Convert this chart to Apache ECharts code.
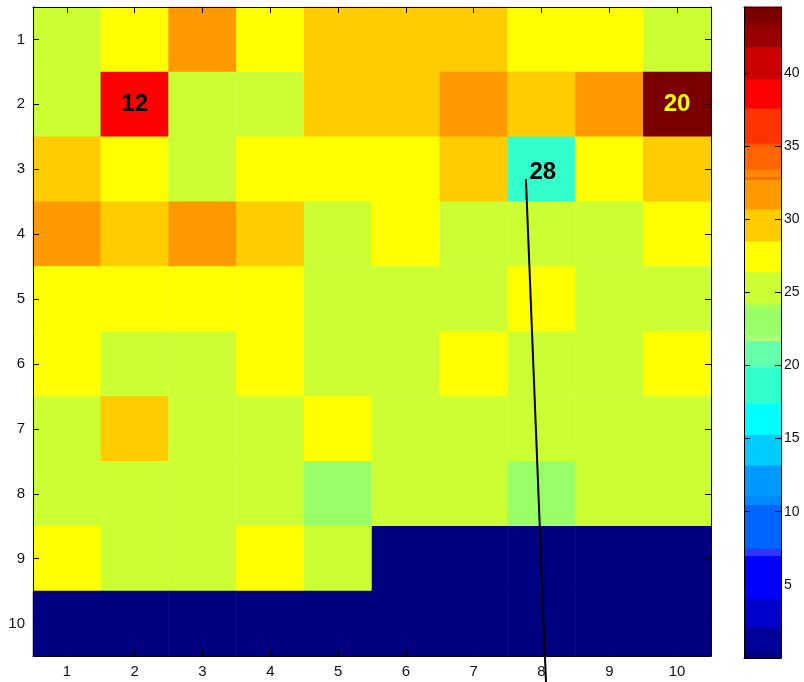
<!DOCTYPE html>
<html>
<head>
<meta charset="utf-8">
<title>Cell map</title>
<script src="https://cdn.jsdelivr.net/npm/echarts@6/dist/echarts.min.js"></script>
<style>
  html, body { margin: 0; padding: 0; background: #ffffff; }
  #chart { width: 804px; height: 682px; }
</style>
</head>
<body>
<div id="chart"></div>
<script>
// Column and row labels of the 10 x 10 grid
const colLabels = ['1', '2', '3', '4', '5', '6', '7', '8', '9', '10'];
const rowLabels = ['1', '2', '3', '4', '5', '6', '7', '8', '9', '10'];

// Cell values, one array per row (row 1 is drawn at the top)
const row1  = [25, 27, 31, 27, 29, 29, 29, 27, 27, 25];
const row2  = [25, 38, 25, 25, 29, 29, 31, 29, 31, 44];
const row3  = [29, 27, 25, 27, 27, 27, 29, 18, 27, 29];
const row4  = [31, 29, 31, 29, 25, 27, 25, 25, 25, 27];
const row5  = [27, 27, 27, 27, 25, 25, 25, 27, 25, 25];
const row6  = [27, 25, 25, 27, 25, 25, 27, 25, 25, 27];
const row7  = [25, 29, 25, 25, 27, 25, 25, 25, 25, 25];
const row8  = [25, 25, 25, 25, 23, 25, 25, 23, 25, 25];
const row9  = [27, 25, 25, 27, 25, 0, 0, 0, 0, 0];
const row10 = [0, 0, 0, 0, 0, 0, 0, 0, 0, 0];
const rows = [row1, row2, row3, row4, row5, row6, row7, row8, row9, row10];

// Stepped colour scale: band edges (low to high) and the colour of each band
const bandEdges = [0, 0.5, 2.1, 4.1, 7.0, 7.5, 10.5, 11.1, 13.2, 15.3, 17.4, 19.9, 20.1,
                   21.7, 22.1, 23.9, 24.3, 26.4, 28.5, 30.7, 32.7, 32.9, 33.4, 35.0,
                   35.2, 37.6, 39.6, 41.8, 43.1, 43.6, 44.5];
const bandColors = ['#000080', '#000099', '#0000cc', '#0000ff', '#3333ff', '#0066ff',
                    '#0088ff', '#0099ff', '#00ccff', '#00ffff', '#33ffcc', '#55ffbb',
                    '#66ffaa', '#aaff77', '#99ff66', '#aaff55', '#ccff33', '#ffff00',
                    '#ffcc00', '#ff9900', '#ff6600', '#ff8800', '#ff6600', '#ff5500',
                    '#ff3300', '#ff0000', '#cc0000', '#990000', '#880000', '#7a0000'];

// Cell number call-outs (column, row, text, colour)
const noteCols   = [2, 10, 8.02];
const noteRows   = [2, 2, 3.05];
const noteTexts  = ['12', '20', '28'];
const noteColors = ['#000000', '#ffff00', '#000000'];

// Leader line from the "28" call-out down past the bottom edge
const leaderX = [7.77, 8.07];
const leaderY = [3.15, 11.0];

const heatData = [];
rows.forEach((r, ri) => r.forEach((v, ci) => heatData.push([ci, ri, v])));

const pieces = bandColors.map((c, i) => {
  const p = { gte: bandEdges[i], color: c };
  if (i < bandColors.length - 1) p.lt = bandEdges[i + 1]; else p.lte = bandEdges[i + 1];
  return p;
});

const bandData = bandColors.map((c, i) => [bandEdges[i], bandEdges[i + 1]]);
const noteData = noteTexts.map((t, i) => ({
  value: [noteCols[i], noteRows[i]],
  label: { color: noteColors[i] }
}));
const leaderData = leaderX.map((x, i) => [x, leaderY[i]]);

const labelFont = { fontFamily: 'Liberation Sans, Arial, sans-serif', fontSize: 15, color: '#111' };
const axisLine = { show: true, onZero: false, lineStyle: { color: '#000', width: 1 } };
const inTick = { show: true, inside: true, length: 6, alignWithLabel: true, lineStyle: { color: '#000' } };

const chart = echarts.init(document.getElementById('chart'), null, { renderer: 'canvas' });
chart.setOption({
  animation: false,
  backgroundColor: '#ffffff',
  grid: [
    { left: 33, top: 7, width: 678, height: 649 },
    { left: 744, top: 7, width: 37, height: 651 }
  ],
  xAxis: [
    { type: 'category', gridIndex: 0, data: colLabels, position: 'bottom',
      axisLine: axisLine, axisTick: inTick, splitLine: { show: false },
      axisLabel: Object.assign({ margin: 8 }, labelFont), z: 10 },
    { type: 'category', gridIndex: 0, data: colLabels, position: 'top',
      axisLine: axisLine, axisTick: inTick, axisLabel: { show: false }, z: 10 },
    { type: 'value', gridIndex: 0, min: 0.5, max: 10.5, show: false },
    { type: 'value', gridIndex: 1, min: 0, max: 1, position: 'bottom',
      axisLine: axisLine, axisTick: { show: false }, axisLabel: { show: false },
      splitLine: { show: false }, z: 10 },
    { type: 'value', gridIndex: 1, min: 0, max: 1, position: 'top',
      axisLine: axisLine, axisTick: { show: false }, axisLabel: { show: false },
      splitLine: { show: false }, z: 10 }
  ],
  yAxis: [
    { type: 'category', gridIndex: 0, data: rowLabels, inverse: true, position: 'left',
      axisLine: axisLine, axisTick: inTick, splitLine: { show: false },
      axisLabel: Object.assign({ margin: 8 }, labelFont), z: 10 },
    { type: 'category', gridIndex: 0, data: rowLabels, inverse: true, position: 'right',
      axisLine: axisLine, axisTick: inTick, axisLabel: { show: false }, z: 10 },
    { type: 'value', gridIndex: 0, min: 0.5, max: 10.5, inverse: true, show: false },
    { type: 'value', gridIndex: 1, min: 0, max: 44.5, interval: 5, position: 'right',
      axisLine: axisLine, splitLine: { show: false },
      axisTick: { show: true, inside: true, length: 6, lineStyle: { color: '#000' } },
      axisLabel: Object.assign({ margin: 3, showMinLabel: false, showMaxLabel: false }, labelFont, { fontSize: 14 }),
      z: 10 },
    { type: 'value', gridIndex: 1, min: 0, max: 44.5, interval: 5, position: 'left',
      axisLine: axisLine, splitLine: { show: false },
      axisTick: { show: true, inside: true, length: 6, lineStyle: { color: '#000' } },
      axisLabel: { show: false }, z: 10 }
  ],
  visualMap: {
    type: 'piecewise', show: false, seriesIndex: 0, dimension: 2, pieces: pieces
  },
  series: [
    {
      type: 'heatmap', xAxisIndex: 0, yAxisIndex: 0, data: heatData,
      itemStyle: { borderWidth: 0 }, emphasis: { disabled: true }, silent: true
    },
    {
      type: 'custom', xAxisIndex: 3, yAxisIndex: 3, data: bandData, silent: true,
      encode: { x: -1, y: [0, 1] },
      renderItem: function (params, api) {
        const lo = api.value(0), hi = api.value(1);
        const p1 = api.coord([0, hi]);
        const p2 = api.coord([1, lo]);
        // a half-pixel overlap keeps neighbouring bands seamless
        return {
          type: 'rect',
          shape: { x: p1[0], y: p1[1] - 0.5, width: p2[0] - p1[0], height: p2[1] - p1[1] + 1 },
          style: { fill: bandColors[params.dataIndex], stroke: null }
        };
      }
    },
    {
      type: 'line', xAxisIndex: 2, yAxisIndex: 2, data: leaderData, clip: false,
      symbol: 'none', silent: true, z: 20,
      lineStyle: { color: '#000', width: 2 }
    },
    {
      type: 'scatter', xAxisIndex: 2, yAxisIndex: 2, data: noteData, symbolSize: 1,
      silent: true, z: 21,
      itemStyle: { color: 'rgba(0,0,0,0)', opacity: 1 },
      label: {
        show: true, position: 'inside', opacity: 1,
        fontFamily: 'Liberation Sans, Arial, sans-serif', fontWeight: 'bold', fontSize: 24,
        formatter: p => noteTexts[p.dataIndex]
      }
    }
  ]
});
</script>
</body>
</html>
